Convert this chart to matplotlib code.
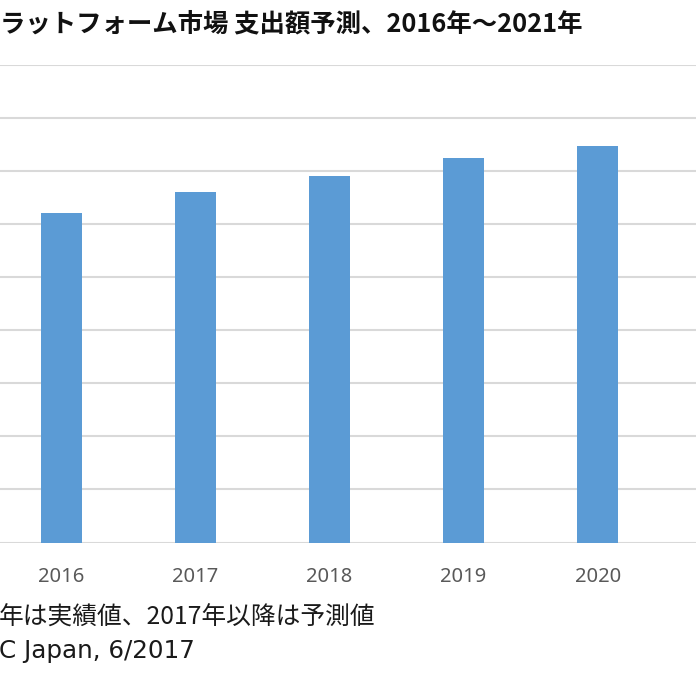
import matplotlib
matplotlib.use("Agg")
import matplotlib.pyplot as plt

plt.rcParams['font.family'] = ['Noto Sans CJK JP', 'DejaVu Sans']

years = ["2016", "2017", "2018", "2019", "2020"]
values = [6.22, 6.60, 6.91, 7.25, 7.47]
grid_ticks = [0, 1, 2, 3, 4, 5, 6, 7, 8, 9]

title = "ラットフォーム市場 支出額予測、2016年～2021年"
note1 = "年は実績値、2017年以降は予測値"
note2 = "C Japan, 6/2017"

fig = plt.figure(figsize=(6.96, 6.96), dpi=100)
ax = fig.add_axes([0, 0.2205, 1, 0.6861])

x = list(range(len(years)))
ax.bar(x, values, width=0.302, color="#5B9BD5", zorder=3)

ax.set_xlim(-0.457, 4.733)
ax.set_ylim(0, 9)
ax.set_yticks(grid_ticks)
ax.yaxis.grid(True, color="#d9d9d9", linewidth=1.5, zorder=0)
ax.set_axisbelow(True)
ax.tick_params(axis='y', left=False, labelleft=False)
ax.set_xticks(x)
ax.set_xticklabels(years, fontsize=14.5, color="#595959", family=['Noto Sans', 'DejaVu Sans'])
ax.tick_params(axis='x', bottom=False, pad=14)
for s in ax.spines.values():
    s.set_visible(False)

fig.text(0.0, 0.966, title, fontsize=18.3, fontweight='bold', color="#111111",
         ha='left', va='center')
fig.text(-0.002, 0.113, note1, fontsize=17.8, color="#1a1a1a", ha='left', va='center')
fig.text(-0.002, 0.0647, note2, fontsize=17.7, color="#1a1a1a", ha='left', va='center',
         family=['DejaVu Sans'])

fig.savefig("out.png", dpi=100)
